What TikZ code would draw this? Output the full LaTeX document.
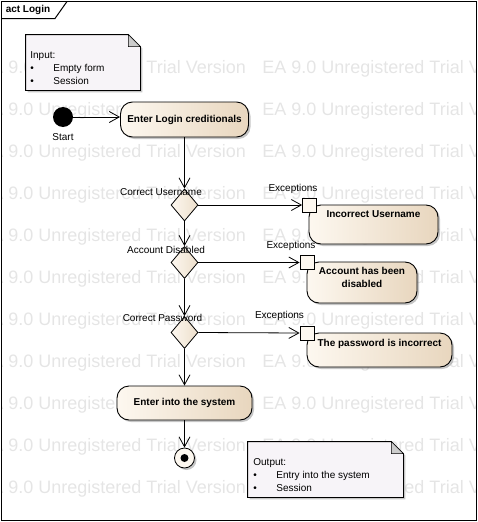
\documentclass[tikz,border=0pt]{standalone}
\usepackage{fontspec}
\setmainfont{Liberation Sans}
\usetikzlibrary{positioning, arrows.meta, shapes.geometric, shadows}
\definecolor{actleft}{RGB}{253,248,240}
\definecolor{actright}{RGB}{232,214,190}
\definecolor{notefill}{RGB}{247,244,248}
\definecolor{wmgray}{RGB}{229,229,229}
\tikzset {
    >={Straight Barb[length=10pt, width=11pt]},
    castshadow/.style={drop shadow={shadow xshift=2pt, shadow yshift=-2pt, opacity=0.45}}
}

\begin{document}
\begin{tikzpicture}[
  x=1pt, y=-1pt,
  line width=0.8pt,
  font=\fontsize{10}{13}\selectfont,
  action/.style={rectangle, rounded corners=12pt, draw, line width=0.9pt, left color=actleft, right color=actright, castshadow, inner sep=0pt, font=\fontsize{10}{13}\selectfont\bfseries},
  acttext/.style={inner sep=0pt, align=center, font=\fontsize{10}{13}\selectfont\bfseries},
  decision/.style={diamond, draw, left color=actleft, right color=actright!80!white, minimum width=27pt, minimum height=32pt, inner sep=0pt},
  pin/.style={rectangle, draw, fill=actleft, minimum size=14pt, inner sep=0pt},
  guard/.style={inner sep=0pt},
  notebody/.style={rectangle, inner sep=0pt},
  notebox/.style={draw, fill=notefill, line width=0.8pt, castshadow},
  fold/.style={draw, fill=black!20, line width=0.6pt},
  notetext/.style={inner sep=0pt, align=left},
  watermark/.style={inner sep=0pt, anchor=base west, text=wmgray, font=\fontsize{18}{20}\selectfont},
  flow/.style={draw, ->}
  ]
\useasboundingbox (0,0) rectangle (478,522);

\begin{scope}
\clip (1.5,1.5) rectangle (476.5,520.5);
\foreach \r in {0,...,10} {
  \node[watermark] (wma\r) at (-21, 73.5+42*\r) {EA 9.0 Unregistered Trial Version};
  \node[watermark] (wmb\r) at (262, 73.5+42*\r) {EA 9.0 Unregistered Trial Version};
}
\end{scope}

\draw[line width=1pt] (1.5,1.5) rectangle (476.5,520.5);
\draw[line width=1pt] (1.5,18.5) -- (55,18.5) -- (67,1.5);
\node[inner sep=0pt, font=\fontsize{10}{13}\selectfont\bfseries] (title) at (28,10) {act Login};

\node[notebody, minimum width=114pt, minimum height=55pt] (input) at (83,62.5) {};
\path[notebox] (input.north west) -- ([xshift=-12pt]input.north east) -- ([yshift=-12pt]input.north east) -- (input.south east) -- (input.south west) -- cycle;
\path[fold] ([xshift=-12pt]input.north east) -- ([xshift=-12pt,yshift=-12pt]input.north east) -- ([yshift=-12pt]input.north east) -- cycle;
\node[notetext, anchor=west] (inputtext) at (30,68) {Input:\\ \makebox[23pt][l]{\textbullet}Empty form\\ \makebox[23pt][l]{\textbullet}Session};

\node[circle, fill=black, minimum size=20pt, inner sep=0pt, label={[label distance=2pt]below:Start}] (start) at (63,117) {};
\node[action, minimum width=128pt, minimum height=35pt] (login) at (184.5,119.5) {Enter Login creditionals};

\node[decision] (chkuser) at (184.5,205) {};
\node[decision] (chkactive) at (184.5,262.5) {};
\node[decision] (chkpass) at (184.5,332.5) {};

\node[action, minimum width=129pt, minimum height=39pt] (baduser) at (373.5,224.5) {};
\node[acttext, anchor=north] (badusertext) at ([yshift=-5.5pt]baduser.north) {Incorrect Username};
\node[action, minimum width=110pt, minimum height=41pt] (disabled) at (362,282.5) {};
\node[acttext, anchor=north] (disabledtext) at ([yshift=-5.5pt]disabled.north) {Account has been\\disabled};
\node[action, minimum width=145pt, minimum height=34pt] (badpass) at (379.5,350) {};
\node[acttext, anchor=north] (badpasstext) at ([yshift=-6pt]badpass.north) {The password is incorrect};

\node[pin] (pinuser) at (309.5,205) {};
\node[pin] (pinactive) at (307,262.5) {};
\node[pin] (pinpass) at (307,333) {};

\node[action, minimum width=135pt, minimum height=34pt] (enter) at (184.5,403) {Enter into the system};
\node[circle, draw, fill=actleft, minimum size=20pt, inner sep=0pt, castshadow] (stop) at (184.5,458) {};
\fill (stop) circle (4pt);

\node[notebody, minimum width=155pt, minimum height=55pt] (output) at (325.5,469.5) {};
\path[notebox] (output.north west) -- ([xshift=-12pt]output.north east) -- ([yshift=-12pt]output.north east) -- (output.south east) -- (output.south west) -- cycle;
\path[fold] ([xshift=-12pt]output.north east) -- ([xshift=-12pt,yshift=-12pt]output.north east) -- ([yshift=-12pt]output.north east) -- cycle;
\node[notetext, anchor=west] (outputtext) at (253,475) {Output:\\ \makebox[23pt][l]{\textbullet}Entry into the system\\ \makebox[23pt][l]{\textbullet}Session};

\draw[flow] (start) -- (login.west |- start);
\draw[flow] (login) -- (chkuser);
\draw[flow] (chkuser) -- (chkactive);
\draw[flow] (chkactive) -- (chkpass);
\draw[flow] (chkpass) -- (enter);
\draw[flow] (enter) -- (stop);
\draw[flow] (chkuser.east) -- (pinuser.west);
\draw[flow] (chkactive.east) -- (pinactive.west);
\draw[flow] (chkpass.east) -- (pinpass.west);

\node[guard] (guser) at (161,192) {Correct Username};
\node[guard] (gactive) at (166,250) {Account Disabled};
\node[guard] (gpass) at (162.5,318) {Correct Password};
\node[guard] (exuser) at (293,189) {Exceptions};
\node[guard] (exactive) at (291,246) {Exceptions};
\node[guard] (expass) at (279.5,316) {Exceptions};

\end{tikzpicture}
\end{document}
